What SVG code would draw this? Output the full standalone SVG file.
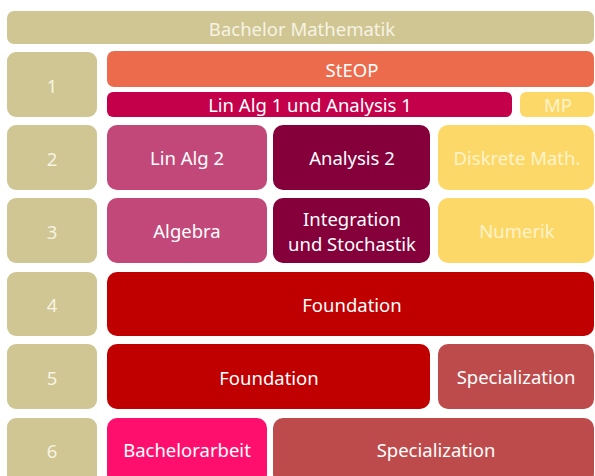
<svg xmlns="http://www.w3.org/2000/svg" width="595" height="476" viewBox="0 0 595 476">
<style>
text{font-family:"Noto Sans","Open Sans","Liberation Sans",sans-serif;font-size:18.5px;text-anchor:middle;dominant-baseline:central;fill:#FFFFFF}
.tan{fill:#CFC693}
.tan-t{fill:#F7F3E3}
.yel{fill:#FCD868}
.yel-t{fill:#FFF3CC}
</style>
<rect width="595" height="476" fill="#FFFFFF"/>
<g id="header"><rect class="tan" x="7" y="11" width="587" height="33" rx="7"/><text class="tan-t" x="302" y="28">Bachelor Mathematik</text></g>
<g id="sem1"><rect class="tan" x="7" y="52" width="90" height="65" rx="9"/><text class="tan-t" x="52" y="85">1</text></g>
<g id="sem2"><rect class="tan" x="7" y="125" width="90" height="65" rx="9"/><text class="tan-t" x="52" y="158">2</text></g>
<g id="sem3"><rect class="tan" x="7" y="198" width="90" height="65" rx="9"/><text class="tan-t" x="52" y="231">3</text></g>
<g id="sem4"><rect class="tan" x="7" y="272" width="90" height="64" rx="9"/><text class="tan-t" x="52" y="304">4</text></g>
<g id="sem5"><rect class="tan" x="7" y="344" width="90" height="65" rx="9"/><text class="tan-t" x="52" y="377">5</text></g>
<g id="sem6"><rect class="tan" x="7" y="418" width="90" height="66" rx="9"/><text class="tan-t" x="52" y="450">6</text></g>
<g id="steop"><rect x="107" y="51" width="487" height="36" rx="7" fill="#EC6B4D"/><text x="352" y="69">StEOP</text></g>
<g id="linalg1"><rect x="107" y="92" width="405" height="25" rx="6" fill="#C5004B"/><text x="310" y="104">Lin Alg 1 und Analysis 1</text></g>
<g id="mp"><rect class="yel" x="520" y="92" width="74" height="25" rx="6"/><text class="yel-t" x="558" y="104">MP</text></g>
<g id="linalg2"><rect x="107" y="125" width="160" height="65" rx="10" fill="#C2487A"/><text x="187" y="157">Lin Alg 2</text></g>
<g id="analysis2"><rect x="273" y="125" width="157" height="65" rx="10" fill="#85003A"/><text x="352" y="157">Analysis 2</text></g>
<g id="diskrete"><rect class="yel" x="438" y="125" width="156" height="65" rx="10"/><text class="yel-t" x="517" y="157">Diskrete Math.</text></g>
<g id="algebra"><rect x="107" y="198" width="160" height="65" rx="10" fill="#C2487A"/><text x="187" y="230">Algebra</text></g>
<g id="integration"><rect x="273" y="198" width="157" height="65" rx="10" fill="#85003A"/><text x="352" y="218">Integration</text><text x="352" y="243">und Stochastik</text></g>
<g id="numerik"><rect class="yel" x="438" y="198" width="156" height="65" rx="10"/><text class="yel-t" x="517" y="230">Numerik</text></g>
<g id="foundation4"><rect x="107" y="272" width="487" height="64" rx="10" fill="#C00000"/><text x="352" y="304">Foundation</text></g>
<g id="foundation5"><rect x="107" y="344" width="323" height="65" rx="10" fill="#C00000"/><text x="269" y="377">Foundation</text></g>
<g id="special5"><rect x="438" y="344" width="156" height="65" rx="10" fill="#BE4B4B"/><text x="516" y="376">Specialization</text></g>
<g id="bachelorarbeit"><rect x="107" y="418" width="160" height="66" rx="10" fill="#FF0F6D"/><text x="187" y="449">Bachelorarbeit</text></g>
<g id="special6"><rect x="273" y="418" width="321" height="66" rx="10" fill="#BE4B4B"/><text x="436" y="449">Specialization</text></g>
<g id="connectors"/>
</svg>
